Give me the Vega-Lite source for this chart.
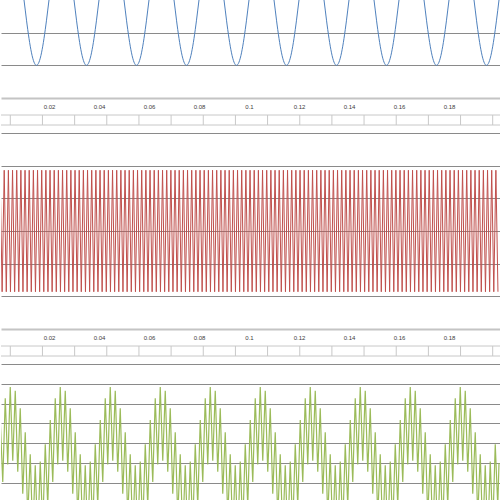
{
"$schema": "https://vega.github.io/schema/vega-lite/v6.json",
"padding": 0,
"spacing": 0,
"bounds": "flush",
"config": {"view": {"stroke": null}, "axis": {"minExtent": 0}},
"datasets": {
"blue": [{"t":0,"v":0},
{"t":0.005,"v":1},{"t":0.01,"v":0},{"t":0.011,"v":-0.309},{"t":0.012,"v":-0.588},{"t":0.013,"v":-0.809},{"t":0.014,"v":-0.951},{"t":0.015,"v":-1},{"t":0.016,"v":-0.951},{"t":0.017,"v":-0.809},{"t":0.018,"v":-0.588},{"t":0.019,"v":-0.309},{"t":0.02,"v":0},
{"t":0.025,"v":1},{"t":0.03,"v":0},{"t":0.031,"v":-0.309},{"t":0.032,"v":-0.588},{"t":0.033,"v":-0.809},{"t":0.034,"v":-0.951},{"t":0.035,"v":-1},{"t":0.036,"v":-0.951},{"t":0.037,"v":-0.809},{"t":0.038,"v":-0.588},{"t":0.039,"v":-0.309},{"t":0.04,"v":0},
{"t":0.045,"v":1},{"t":0.05,"v":0},{"t":0.051,"v":-0.309},{"t":0.052,"v":-0.588},{"t":0.053,"v":-0.809},{"t":0.054,"v":-0.951},{"t":0.055,"v":-1},{"t":0.056,"v":-0.951},{"t":0.057,"v":-0.809},{"t":0.058,"v":-0.588},{"t":0.059,"v":-0.309},{"t":0.06,"v":0},
{"t":0.065,"v":1},{"t":0.07,"v":0},{"t":0.071,"v":-0.309},{"t":0.072,"v":-0.588},{"t":0.073,"v":-0.809},{"t":0.074,"v":-0.951},{"t":0.075,"v":-1},{"t":0.076,"v":-0.951},{"t":0.077,"v":-0.809},{"t":0.078,"v":-0.588},{"t":0.079,"v":-0.309},{"t":0.08,"v":0},
{"t":0.085,"v":1},{"t":0.09,"v":0},{"t":0.091,"v":-0.309},{"t":0.092,"v":-0.588},{"t":0.093,"v":-0.809},{"t":0.094,"v":-0.951},{"t":0.095,"v":-1},{"t":0.096,"v":-0.951},{"t":0.097,"v":-0.809},{"t":0.098,"v":-0.588},{"t":0.099,"v":-0.309},{"t":0.1,"v":0},
{"t":0.105,"v":1},{"t":0.11,"v":0},{"t":0.111,"v":-0.309},{"t":0.112,"v":-0.588},{"t":0.113,"v":-0.809},{"t":0.114,"v":-0.951},{"t":0.115,"v":-1},{"t":0.116,"v":-0.951},{"t":0.117,"v":-0.809},{"t":0.118,"v":-0.588},{"t":0.119,"v":-0.309},{"t":0.12,"v":0},
{"t":0.125,"v":1},{"t":0.13,"v":0},{"t":0.131,"v":-0.309},{"t":0.132,"v":-0.588},{"t":0.133,"v":-0.809},{"t":0.134,"v":-0.951},{"t":0.135,"v":-1},{"t":0.136,"v":-0.951},{"t":0.137,"v":-0.809},{"t":0.138,"v":-0.588},{"t":0.139,"v":-0.309},{"t":0.14,"v":0},
{"t":0.145,"v":1},{"t":0.15,"v":0},{"t":0.151,"v":-0.309},{"t":0.152,"v":-0.588},{"t":0.153,"v":-0.809},{"t":0.154,"v":-0.951},{"t":0.155,"v":-1},{"t":0.156,"v":-0.951},{"t":0.157,"v":-0.809},{"t":0.158,"v":-0.588},{"t":0.159,"v":-0.309},{"t":0.16,"v":0},
{"t":0.165,"v":1},{"t":0.17,"v":0},{"t":0.171,"v":-0.309},{"t":0.172,"v":-0.588},{"t":0.173,"v":-0.809},{"t":0.174,"v":-0.951},{"t":0.175,"v":-1},{"t":0.176,"v":-0.951},{"t":0.177,"v":-0.809},{"t":0.178,"v":-0.588},{"t":0.179,"v":-0.309},{"t":0.18,"v":0},
{"t":0.185,"v":1},{"t":0.19,"v":0},{"t":0.191,"v":-0.309},{"t":0.192,"v":-0.588},{"t":0.193,"v":-0.809},{"t":0.194,"v":-0.951},{"t":0.195,"v":-1},{"t":0.196,"v":-0.951},{"t":0.197,"v":-0.809},{"t":0.198,"v":-0.588},{"t":0.199,"v":-0.309},{"t":0.2,"v":0}
],
"red": [
{"t":0.000417,"v":0.93},{"t":0.00125,"v":-0.93},{"t":0.002083,"v":0.93},{"t":0.002917,"v":-0.93},{"t":0.00375,"v":0.93},{"t":0.004583,"v":-0.93},{"t":0.005417,"v":0.93},{"t":0.00625,"v":-0.93},{"t":0.007083,"v":0.93},{"t":0.007917,"v":-0.93},{"t":0.00875,"v":0.93},{"t":0.009583,"v":-0.93},
{"t":0.010417,"v":0.93},{"t":0.01125,"v":-0.93},{"t":0.012083,"v":0.93},{"t":0.012917,"v":-0.93},{"t":0.01375,"v":0.93},{"t":0.014583,"v":-0.93},{"t":0.015417,"v":0.93},{"t":0.01625,"v":-0.93},{"t":0.017083,"v":0.93},{"t":0.017917,"v":-0.93},{"t":0.01875,"v":0.93},{"t":0.019583,"v":-0.93},
{"t":0.020417,"v":0.93},{"t":0.02125,"v":-0.93},{"t":0.022083,"v":0.93},{"t":0.022917,"v":-0.93},{"t":0.02375,"v":0.93},{"t":0.024583,"v":-0.93},{"t":0.025417,"v":0.93},{"t":0.02625,"v":-0.93},{"t":0.027083,"v":0.93},{"t":0.027917,"v":-0.93},{"t":0.02875,"v":0.93},{"t":0.029583,"v":-0.93},
{"t":0.030417,"v":0.93},{"t":0.03125,"v":-0.93},{"t":0.032083,"v":0.93},{"t":0.032917,"v":-0.93},{"t":0.03375,"v":0.93},{"t":0.034583,"v":-0.93},{"t":0.035417,"v":0.93},{"t":0.03625,"v":-0.93},{"t":0.037083,"v":0.93},{"t":0.037917,"v":-0.93},{"t":0.03875,"v":0.93},{"t":0.039583,"v":-0.93},
{"t":0.040417,"v":0.93},{"t":0.04125,"v":-0.93},{"t":0.042083,"v":0.93},{"t":0.042917,"v":-0.93},{"t":0.04375,"v":0.93},{"t":0.044583,"v":-0.93},{"t":0.045417,"v":0.93},{"t":0.04625,"v":-0.93},{"t":0.047083,"v":0.93},{"t":0.047917,"v":-0.93},{"t":0.04875,"v":0.93},{"t":0.049583,"v":-0.93},
{"t":0.050417,"v":0.93},{"t":0.05125,"v":-0.93},{"t":0.052083,"v":0.93},{"t":0.052917,"v":-0.93},{"t":0.05375,"v":0.93},{"t":0.054583,"v":-0.93},{"t":0.055417,"v":0.93},{"t":0.05625,"v":-0.93},{"t":0.057083,"v":0.93},{"t":0.057917,"v":-0.93},{"t":0.05875,"v":0.93},{"t":0.059583,"v":-0.93},
{"t":0.060417,"v":0.93},{"t":0.06125,"v":-0.93},{"t":0.062083,"v":0.93},{"t":0.062917,"v":-0.93},{"t":0.06375,"v":0.93},{"t":0.064583,"v":-0.93},{"t":0.065417,"v":0.93},{"t":0.06625,"v":-0.93},{"t":0.067083,"v":0.93},{"t":0.067917,"v":-0.93},{"t":0.06875,"v":0.93},{"t":0.069583,"v":-0.93},
{"t":0.070417,"v":0.93},{"t":0.07125,"v":-0.93},{"t":0.072083,"v":0.93},{"t":0.072917,"v":-0.93},{"t":0.07375,"v":0.93},{"t":0.074583,"v":-0.93},{"t":0.075417,"v":0.93},{"t":0.07625,"v":-0.93},{"t":0.077083,"v":0.93},{"t":0.077917,"v":-0.93},{"t":0.07875,"v":0.93},{"t":0.079583,"v":-0.93},
{"t":0.080417,"v":0.93},{"t":0.08125,"v":-0.93},{"t":0.082083,"v":0.93},{"t":0.082917,"v":-0.93},{"t":0.08375,"v":0.93},{"t":0.084583,"v":-0.93},{"t":0.085417,"v":0.93},{"t":0.08625,"v":-0.93},{"t":0.087083,"v":0.93},{"t":0.087917,"v":-0.93},{"t":0.08875,"v":0.93},{"t":0.089583,"v":-0.93},
{"t":0.090417,"v":0.93},{"t":0.09125,"v":-0.93},{"t":0.092083,"v":0.93},{"t":0.092917,"v":-0.93},{"t":0.09375,"v":0.93},{"t":0.094583,"v":-0.93},{"t":0.095417,"v":0.93},{"t":0.09625,"v":-0.93},{"t":0.097083,"v":0.93},{"t":0.097917,"v":-0.93},{"t":0.09875,"v":0.93},{"t":0.099583,"v":-0.93},
{"t":0.100417,"v":0.93},{"t":0.10125,"v":-0.93},{"t":0.102083,"v":0.93},{"t":0.102917,"v":-0.93},{"t":0.10375,"v":0.93},{"t":0.104583,"v":-0.93},{"t":0.105417,"v":0.93},{"t":0.10625,"v":-0.93},{"t":0.107083,"v":0.93},{"t":0.107917,"v":-0.93},{"t":0.10875,"v":0.93},{"t":0.109583,"v":-0.93},
{"t":0.110417,"v":0.93},{"t":0.11125,"v":-0.93},{"t":0.112083,"v":0.93},{"t":0.112917,"v":-0.93},{"t":0.11375,"v":0.93},{"t":0.114583,"v":-0.93},{"t":0.115417,"v":0.93},{"t":0.11625,"v":-0.93},{"t":0.117083,"v":0.93},{"t":0.117917,"v":-0.93},{"t":0.11875,"v":0.93},{"t":0.119583,"v":-0.93},
{"t":0.120417,"v":0.93},{"t":0.12125,"v":-0.93},{"t":0.122083,"v":0.93},{"t":0.122917,"v":-0.93},{"t":0.12375,"v":0.93},{"t":0.124583,"v":-0.93},{"t":0.125417,"v":0.93},{"t":0.12625,"v":-0.93},{"t":0.127083,"v":0.93},{"t":0.127917,"v":-0.93},{"t":0.12875,"v":0.93},{"t":0.129583,"v":-0.93},
{"t":0.130417,"v":0.93},{"t":0.13125,"v":-0.93},{"t":0.132083,"v":0.93},{"t":0.132917,"v":-0.93},{"t":0.13375,"v":0.93},{"t":0.134583,"v":-0.93},{"t":0.135417,"v":0.93},{"t":0.13625,"v":-0.93},{"t":0.137083,"v":0.93},{"t":0.137917,"v":-0.93},{"t":0.13875,"v":0.93},{"t":0.139583,"v":-0.93},
{"t":0.140417,"v":0.93},{"t":0.14125,"v":-0.93},{"t":0.142083,"v":0.93},{"t":0.142917,"v":-0.93},{"t":0.14375,"v":0.93},{"t":0.144583,"v":-0.93},{"t":0.145417,"v":0.93},{"t":0.14625,"v":-0.93},{"t":0.147083,"v":0.93},{"t":0.147917,"v":-0.93},{"t":0.14875,"v":0.93},{"t":0.149583,"v":-0.93},
{"t":0.150417,"v":0.93},{"t":0.15125,"v":-0.93},{"t":0.152083,"v":0.93},{"t":0.152917,"v":-0.93},{"t":0.15375,"v":0.93},{"t":0.154583,"v":-0.93},{"t":0.155417,"v":0.93},{"t":0.15625,"v":-0.93},{"t":0.157083,"v":0.93},{"t":0.157917,"v":-0.93},{"t":0.15875,"v":0.93},{"t":0.159583,"v":-0.93},
{"t":0.160417,"v":0.93},{"t":0.16125,"v":-0.93},{"t":0.162083,"v":0.93},{"t":0.162917,"v":-0.93},{"t":0.16375,"v":0.93},{"t":0.164583,"v":-0.93},{"t":0.165417,"v":0.93},{"t":0.16625,"v":-0.93},{"t":0.167083,"v":0.93},{"t":0.167917,"v":-0.93},{"t":0.16875,"v":0.93},{"t":0.169583,"v":-0.93},
{"t":0.170417,"v":0.93},{"t":0.17125,"v":-0.93},{"t":0.172083,"v":0.93},{"t":0.172917,"v":-0.93},{"t":0.17375,"v":0.93},{"t":0.174583,"v":-0.93},{"t":0.175417,"v":0.93},{"t":0.17625,"v":-0.93},{"t":0.177083,"v":0.93},{"t":0.177917,"v":-0.93},{"t":0.17875,"v":0.93},{"t":0.179583,"v":-0.93},
{"t":0.180417,"v":0.93},{"t":0.18125,"v":-0.93},{"t":0.182083,"v":0.93},{"t":0.182917,"v":-0.93},{"t":0.18375,"v":0.93},{"t":0.184583,"v":-0.93},{"t":0.185417,"v":0.93},{"t":0.18625,"v":-0.93},{"t":0.187083,"v":0.93},{"t":0.187917,"v":-0.93},{"t":0.18875,"v":0.93},{"t":0.189583,"v":-0.93},
{"t":0.190417,"v":0.93},{"t":0.19125,"v":-0.93},{"t":0.192083,"v":0.93},{"t":0.192917,"v":-0.93},{"t":0.19375,"v":0.93},{"t":0.194583,"v":-0.93},{"t":0.195417,"v":0.93},{"t":0.19625,"v":-0.93},{"t":0.197083,"v":0.93},{"t":0.197917,"v":-0.93},{"t":0.19875,"v":0.93},{"t":0.199583,"v":-0.93}
],
"green": [{"t":0,"v":0},
{"t":0.0005,"v":1.086},{"t":0.0015,"v":-0.476},{"t":0.0025,"v":1.637},{"t":0.0035,"v":-0.039},{"t":0.0045,"v":1.918},{"t":0.0055,"v":0.058},{"t":0.0065,"v":1.821},{"t":0.0075,"v":-0.223},{"t":0.0085,"v":1.384},{"t":0.0095,"v":-0.774},{"t":0.0105,"v":0.774},{"t":0.0115,"v":-1.384},{"t":0.0125,"v":0.223},{"t":0.0135,"v":-1.821},{"t":0.0145,"v":-0.058},{"t":0.0155,"v":-1.918},{"t":0.0165,"v":0.039},{"t":0.0175,"v":-1.637},{"t":0.0185,"v":0.476},{"t":0.0195,"v":-1.086},
{"t":0.0205,"v":1.086},{"t":0.0215,"v":-0.476},{"t":0.0225,"v":1.637},{"t":0.0235,"v":-0.039},{"t":0.0245,"v":1.918},{"t":0.0255,"v":0.058},{"t":0.0265,"v":1.821},{"t":0.0275,"v":-0.223},{"t":0.0285,"v":1.384},{"t":0.0295,"v":-0.774},{"t":0.0305,"v":0.774},{"t":0.0315,"v":-1.384},{"t":0.0325,"v":0.223},{"t":0.0335,"v":-1.821},{"t":0.0345,"v":-0.058},{"t":0.0355,"v":-1.918},{"t":0.0365,"v":0.039},{"t":0.0375,"v":-1.637},{"t":0.0385,"v":0.476},{"t":0.0395,"v":-1.086},
{"t":0.0405,"v":1.086},{"t":0.0415,"v":-0.476},{"t":0.0425,"v":1.637},{"t":0.0435,"v":-0.039},{"t":0.0445,"v":1.918},{"t":0.0455,"v":0.058},{"t":0.0465,"v":1.821},{"t":0.0475,"v":-0.223},{"t":0.0485,"v":1.384},{"t":0.0495,"v":-0.774},{"t":0.0505,"v":0.774},{"t":0.0515,"v":-1.384},{"t":0.0525,"v":0.223},{"t":0.0535,"v":-1.821},{"t":0.0545,"v":-0.058},{"t":0.0555,"v":-1.918},{"t":0.0565,"v":0.039},{"t":0.0575,"v":-1.637},{"t":0.0585,"v":0.476},{"t":0.0595,"v":-1.086},
{"t":0.0605,"v":1.086},{"t":0.0615,"v":-0.476},{"t":0.0625,"v":1.637},{"t":0.0635,"v":-0.039},{"t":0.0645,"v":1.918},{"t":0.0655,"v":0.058},{"t":0.0665,"v":1.821},{"t":0.0675,"v":-0.223},{"t":0.0685,"v":1.384},{"t":0.0695,"v":-0.774},{"t":0.0705,"v":0.774},{"t":0.0715,"v":-1.384},{"t":0.0725,"v":0.223},{"t":0.0735,"v":-1.821},{"t":0.0745,"v":-0.058},{"t":0.0755,"v":-1.918},{"t":0.0765,"v":0.039},{"t":0.0775,"v":-1.637},{"t":0.0785,"v":0.476},{"t":0.0795,"v":-1.086},
{"t":0.0805,"v":1.086},{"t":0.0815,"v":-0.476},{"t":0.0825,"v":1.637},{"t":0.0835,"v":-0.039},{"t":0.0845,"v":1.918},{"t":0.0855,"v":0.058},{"t":0.0865,"v":1.821},{"t":0.0875,"v":-0.223},{"t":0.0885,"v":1.384},{"t":0.0895,"v":-0.774},{"t":0.0905,"v":0.774},{"t":0.0915,"v":-1.384},{"t":0.0925,"v":0.223},{"t":0.0935,"v":-1.821},{"t":0.0945,"v":-0.058},{"t":0.0955,"v":-1.918},{"t":0.0965,"v":0.039},{"t":0.0975,"v":-1.637},{"t":0.0985,"v":0.476},{"t":0.0995,"v":-1.086},
{"t":0.1005,"v":1.086},{"t":0.1015,"v":-0.476},{"t":0.1025,"v":1.637},{"t":0.1035,"v":-0.039},{"t":0.1045,"v":1.918},{"t":0.1055,"v":0.058},{"t":0.1065,"v":1.821},{"t":0.1075,"v":-0.223},{"t":0.1085,"v":1.384},{"t":0.1095,"v":-0.774},{"t":0.1105,"v":0.774},{"t":0.1115,"v":-1.384},{"t":0.1125,"v":0.223},{"t":0.1135,"v":-1.821},{"t":0.1145,"v":-0.058},{"t":0.1155,"v":-1.918},{"t":0.1165,"v":0.039},{"t":0.1175,"v":-1.637},{"t":0.1185,"v":0.476},{"t":0.1195,"v":-1.086},
{"t":0.1205,"v":1.086},{"t":0.1215,"v":-0.476},{"t":0.1225,"v":1.637},{"t":0.1235,"v":-0.039},{"t":0.1245,"v":1.918},{"t":0.1255,"v":0.058},{"t":0.1265,"v":1.821},{"t":0.1275,"v":-0.223},{"t":0.1285,"v":1.384},{"t":0.1295,"v":-0.774},{"t":0.1305,"v":0.774},{"t":0.1315,"v":-1.384},{"t":0.1325,"v":0.223},{"t":0.1335,"v":-1.821},{"t":0.1345,"v":-0.058},{"t":0.1355,"v":-1.918},{"t":0.1365,"v":0.039},{"t":0.1375,"v":-1.637},{"t":0.1385,"v":0.476},{"t":0.1395,"v":-1.086},
{"t":0.1405,"v":1.086},{"t":0.1415,"v":-0.476},{"t":0.1425,"v":1.637},{"t":0.1435,"v":-0.039},{"t":0.1445,"v":1.918},{"t":0.1455,"v":0.058},{"t":0.1465,"v":1.821},{"t":0.1475,"v":-0.223},{"t":0.1485,"v":1.384},{"t":0.1495,"v":-0.774},{"t":0.1505,"v":0.774},{"t":0.1515,"v":-1.384},{"t":0.1525,"v":0.223},{"t":0.1535,"v":-1.821},{"t":0.1545,"v":-0.058},{"t":0.1555,"v":-1.918},{"t":0.1565,"v":0.039},{"t":0.1575,"v":-1.637},{"t":0.1585,"v":0.476},{"t":0.1595,"v":-1.086},
{"t":0.1605,"v":1.086},{"t":0.1615,"v":-0.476},{"t":0.1625,"v":1.637},{"t":0.1635,"v":-0.039},{"t":0.1645,"v":1.918},{"t":0.1655,"v":0.058},{"t":0.1665,"v":1.821},{"t":0.1675,"v":-0.223},{"t":0.1685,"v":1.384},{"t":0.1695,"v":-0.774},{"t":0.1705,"v":0.774},{"t":0.1715,"v":-1.384},{"t":0.1725,"v":0.223},{"t":0.1735,"v":-1.821},{"t":0.1745,"v":-0.058},{"t":0.1755,"v":-1.918},{"t":0.1765,"v":0.039},{"t":0.1775,"v":-1.637},{"t":0.1785,"v":0.476},{"t":0.1795,"v":-1.086},
{"t":0.1805,"v":1.086},{"t":0.1815,"v":-0.476},{"t":0.1825,"v":1.637},{"t":0.1835,"v":-0.039},{"t":0.1845,"v":1.918},{"t":0.1855,"v":0.058},{"t":0.1865,"v":1.821},{"t":0.1875,"v":-0.223},{"t":0.1885,"v":1.384},{"t":0.1895,"v":-0.774},{"t":0.1905,"v":0.774},{"t":0.1915,"v":-1.384},{"t":0.1925,"v":0.223},{"t":0.1935,"v":-1.821},{"t":0.1945,"v":-0.058},{"t":0.1955,"v":-1.918},{"t":0.1965,"v":0.039},{"t":0.1975,"v":-1.637},{"t":0.1985,"v":0.476},{"t":0.1995,"v":-1.086},
{"t":0.2,"v":0}
],
"rows": [{"r":1.7},{"r":2.7}],
"cols": [{"t":0.00452},{"t":0.01738},{"t":0.03025},{"t":0.04311},{"t":0.05598},{"t":0.06884},{"t":0.0817},{"t":0.09457},{"t":0.10743},{"t":0.1203},{"t":0.13316},{"t":0.14602},{"t":0.15889},{"t":0.17175},{"t":0.18462},{"t":0.19748}]
},
"vconcat": [
{
"width": 500, "height": 98,
"data": {"name": "blue"},
"mark": {"type": "line", "clip": true, "color": "#4f81bd", "strokeWidth": 1, "interpolate": "monotone"},
"encoding": {
"x": {"field": "t", "type": "quantitative", "scale": {"domain": [0.0008, 0.2008], "nice": false, "zero": false},
"axis": {"orient": "bottom", "values": [0.02,0.04,0.06,0.08,0.1,0.12,0.14,0.16,0.18], "format": "~g", "grid": false, "ticks": false, "domainColor": "#c4c4c4", "domainWidth": 2, "labelFontSize": 6, "labelFont": "Liberation Sans", "labelColor": "#404040", "labelPadding": 8, "labelBaseline": "middle", "labelFlush": false, "labelOverlap": false, "title": null}},
"y": {"field": "v", "type": "quantitative", "scale": {"domain": [-1.5, 0], "nice": false, "zero": false},
"axis": {"values": [-0.5, -1], "grid": true, "gridColor": "#8a8a8a", "labels": false, "ticks": false, "domain": false, "title": null}}
}
},
{
"width": 500, "height": 35,
"layer": [
{"data": {"name": "rows"}, "mark": {"type": "rule", "color": "#c8c8c8"},
"encoding": {"y": {"field": "r", "type": "quantitative", "scale": {"domain": [0, 3.5], "reverse": true, "nice": false, "zero": false}, "axis": null}}},
{"data": {"name": "cols"}, "mark": {"type": "rule", "color": "#c8c8c8"},
"encoding": {"x": {"field": "t", "type": "quantitative", "scale": {"domain": [0.0008, 0.2008], "nice": false, "zero": false}, "axis": null},
"y": {"datum": 1.7, "type": "quantitative", "scale": {"domain": [0, 3.5], "reverse": true, "nice": false, "zero": false}, "axis": null}, "y2": {"datum": 2.7}}}
]
},
{
"width": 500, "height": 196,
"data": {"name": "red"},
"mark": {"type": "line", "clip": true, "color": "#c0504d", "strokeWidth": 1},
"encoding": {
"x": {"field": "t", "type": "quantitative", "scale": {"domain": [0.0008, 0.2008], "nice": false, "zero": false},
"axis": {"orient": "bottom", "values": [0.02,0.04,0.06,0.08,0.1,0.12,0.14,0.16,0.18], "format": "~g", "grid": false, "ticks": false, "domainColor": "#c4c4c4", "domainWidth": 2, "labelFontSize": 6, "labelFont": "Liberation Sans", "labelColor": "#404040", "labelPadding": 8, "labelBaseline": "middle", "labelFlush": false, "labelOverlap": false, "title": null}},
"y": {"field": "v", "type": "quantitative", "scale": {"domain": [-1.5, 1.5], "nice": false, "zero": false},
"axis": {"values": [1.5, 1, 0.5, 0, -0.5, -1], "grid": true, "gridColor": "#8a8a8a", "labels": false, "ticks": false, "domain": false, "title": null}}
}
},
{
"width": 500, "height": 35,
"layer": [
{"data": {"name": "rows"}, "mark": {"type": "rule", "color": "#c8c8c8"},
"encoding": {"y": {"field": "r", "type": "quantitative", "scale": {"domain": [0, 3.5], "reverse": true, "nice": false, "zero": false}, "axis": null}}},
{"data": {"name": "cols"}, "mark": {"type": "rule", "color": "#c8c8c8"},
"encoding": {"x": {"field": "t", "type": "quantitative", "scale": {"domain": [0.0008, 0.2008], "nice": false, "zero": false}, "axis": null},
"y": {"datum": 1.7, "type": "quantitative", "scale": {"domain": [0, 3.5], "reverse": true, "nice": false, "zero": false}, "axis": null}, "y2": {"datum": 2.7}}}
]
},
{
"width": 500, "height": 136,
"data": {"name": "green"},
"mark": {"type": "line", "clip": true, "color": "#9bbb59", "strokeWidth": 1.2},
"encoding": {
"x": {"field": "t", "type": "quantitative", "scale": {"domain": [0.0008, 0.2008], "nice": false, "zero": false}, "axis": null},
"y": {"field": "v", "type": "quantitative", "scale": {"domain": [-0.934, 2.5], "nice": false, "zero": false},
"axis": {"values": [2.5, 2, 1.5, 1, 0.5, 0, -0.5], "grid": true, "gridColor": "#8a8a8a", "labels": false, "ticks": false, "domain": false, "title": null}}
}
}
]
}
